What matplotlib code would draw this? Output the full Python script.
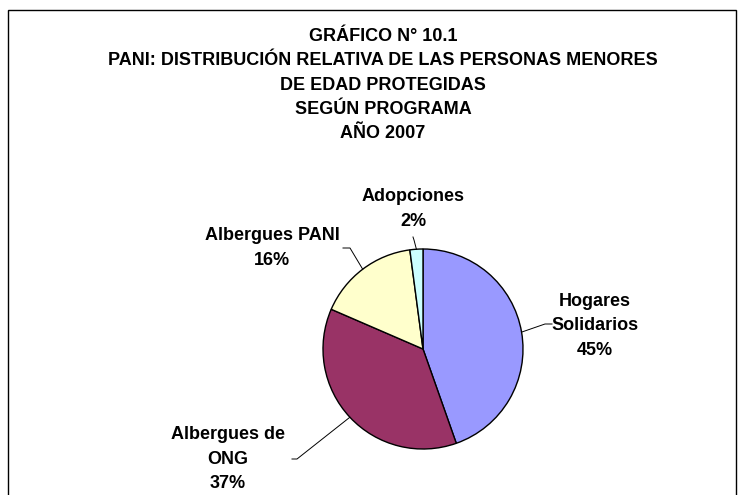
import numpy as np
import matplotlib
matplotlib.use('Agg')
import matplotlib.pyplot as plt
from matplotlib.patches import Rectangle

plt.rcParams['font.family'] = ['Liberation Sans', 'DejaVu Sans']
plt.rcParams['font.weight'] = 'bold'

title_lines = ['GRÁFICO N° 10.1',
               'PANI: DISTRIBUCIÓN RELATIVA DE LAS PERSONAS MENORES',
               'DE EDAD PROTEGIDAS',
               'SEGÚN PROGRAMA',
               'AÑO 2007']
programas = ['Hogares\nSolidarios', 'Albergues de\nONG', 'Albergues PANI', 'Adopciones']
porcentajes = [44.6, 36.9, 16.4, 2.1]
colores = ['#9999FF', '#993366', '#FFFFCC', '#CCFFFF']

fig = plt.figure(figsize=(7.44, 4.95), dpi=100)

# frame of the chart area (bottom edge is cut off in the original)
fig.patches.append(Rectangle((8 / 744, -0.05), 728 / 744, 1.05 - 10 / 495,
                             transform=fig.transFigure, fill=False,
                             edgecolor='black', linewidth=1.0))

fig.text(383 / 744, 1 - 85 / 495, '\n'.join(title_lines), ha='center', va='center',
         fontsize=13, fontweight='bold', linespacing=1.56)

ax = fig.add_axes([323 / 744, 46 / 495, 200 / 744, 200 / 495])
wedges, _ = ax.pie(porcentajes, colors=colores, startangle=90, counterclock=False,
                   wedgeprops=dict(edgecolor='black', linewidth=1.0))
ax.set_xlim(-1, 1)
ax.set_ylim(-1, 1)
ax.set_aspect('equal')
ax.axis('off')

# label text positions (data units of the pie axes) and leader elbows
text_pos = [(1.72, 0.23), (-1.95, -1.10), (-1.51, 1.01), (-0.10, 1.40)]
elbows = [(1.22, 0.25), (-1.26, -1.10), (-0.73, 1.01), (-0.09, 1.09)]
ends = [(1.29, 0.25), (-1.31, -1.10), (-0.80, 1.01), (-0.10, 1.12)]

for w, lab, val, tp, el, en in zip(wedges, programas, porcentajes, text_pos, elbows, ends):
    ang = np.deg2rad((w.theta1 + w.theta2) / 2)
    x0, y0 = np.cos(ang), np.sin(ang)
    ax.plot([x0, el[0], en[0]], [y0, el[1], en[1]], color='black', linewidth=0.7,
            clip_on=False)
    ax.text(tp[0], tp[1], '%s\n%d%%' % (lab, round(val)), ha='center', va='center',
            fontsize=13, fontweight='bold', linespacing=1.55)

fig.savefig('out.png', dpi=100)
